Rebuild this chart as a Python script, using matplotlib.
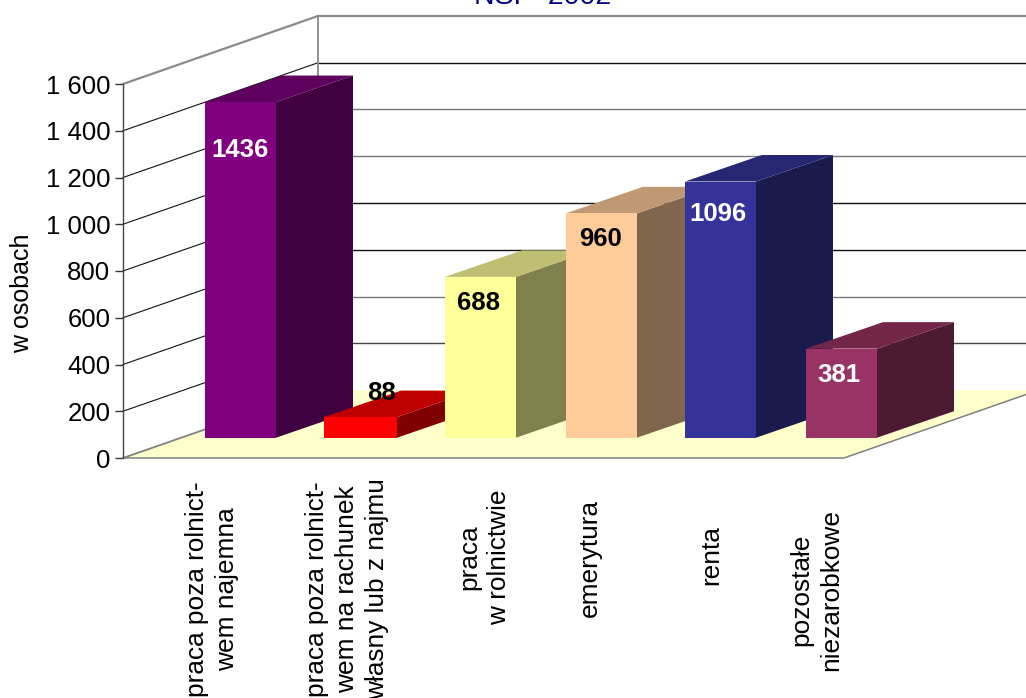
import matplotlib
matplotlib.use('Agg')
import matplotlib.pyplot as plt
from matplotlib.patches import Polygon

plt.rcParams['font.family'] = ['Liberation Sans', 'DejaVu Sans']

categories = [
    'praca poza rolnict-\nwem najemna',
    'praca poza rolnict-\nwem na rachunek\nwłasny lub z najmu',
    'praca\nw rolnictwie',
    'emerytura',
    'renta',
    'pozostałe\nniezarobkowe',
]
values = [1436, 88, 688, 960, 1096, 381]
y_ticks = [0, 200, 400, 600, 800, 1000, 1200, 1400, 1600]
y_tick_labels = ['0', '200', '400', '600', '800', '1 000', '1 200', '1 400', '1 600']

front_colors = ['#800080', '#FF0000', '#FFFF99', '#FFCC99', '#333399', '#993366']
top_colors = ['#5F005F', '#BF0000', '#BFBF73', '#BF9973', '#262673', '#732648']
side_colors = ['#400040', '#800000', '#80804D', '#80664D', '#1A1A4D', '#4D1A33']
label_colors = ['white', 'black', 'black', 'black', 'white', 'white']
grid_colors = ['#444444', '#777777', '#111111', '#111111', '#777777', '#777777', '#111111']

# layout, in pixels of the picture
W, H = 1026, 698
X0, Y0 = 123, 458          # value 0 on the axis
PX_PER_UNIT = 374 / 1600
WALL_DX, WALL_DY = 195, 68  # depth of the floor
SIDE_DX, SIDE_DY = 77, 26.5  # depth of a bar
FLOOR_W = 721
BAR_BASE = 437.7
bar_left = [205, 324, 445, 566, 685, 806]
bar_width = [71, 73, 71, 71, 71, 71]
label_xy = [(240, 150), (381, 393), (479, 303), (600, 239), (718, 214), (839, 375)]
cat_xy = [(212, 589), (347, 589), (484, 557), (590, 558), (711, 555), (816, 590)]


def vy(py):
    # pixel row to value units
    return (Y0 - py) / PX_PER_UNIT


depth = WALL_DY / PX_PER_UNIT
side_up = SIDE_DY / PX_PER_UNIT
base = vy(BAR_BASE)

fig = plt.figure(figsize=(W / 100, H / 100), dpi=100)
ax = fig.add_axes([0, 0, 1, 1])
ax.set_xlim(0, W)
ax.set_ylim(vy(H), vy(0))

# floor
ax.add_patch(Polygon([(X0, 0), (X0 + FLOOR_W, 0), (X0 + FLOOR_W + WALL_DX, depth), (X0 + WALL_DX, depth)],
                     facecolor='#FFFFCC', edgecolor='none', zorder=1))
ax.plot([X0, X0 + FLOOR_W, X0 + FLOOR_W + WALL_DX], [0, 0, depth], color='#808080', lw=1.1, zorder=2)
ax.plot([X0, X0 + WALL_DX], [0, depth], color='#808080', lw=1.3, zorder=2)

# walls
for v, c in zip(y_ticks[1:-1], grid_colors):
    ax.plot([X0, X0 + WALL_DX], [v, v + depth], color='#111111', lw=0.8, zorder=2)
    ax.plot([X0 + WALL_DX, W], [v + depth, v + depth], color=c, lw=1.0, zorder=2)
ax.plot([X0, X0 + WALL_DX, W], [1600, 1600 + depth, 1600 + depth], color='#8A8A8A', lw=1.6, zorder=2)
ax.plot([X0 + WALL_DX, X0 + WALL_DX], [depth, 1600 + depth], color='#8A8A8A', lw=1.3, zorder=2)

# bars, left to right so each one covers the previous
for i, v in enumerate(values):
    x, w = bar_left[i], bar_width[i]
    top = base + v
    z = 3 + i
    ax.add_patch(Polygon([(x + w, base), (x + w + SIDE_DX, base + side_up),
                          (x + w + SIDE_DX, top + side_up), (x + w, top)],
                         facecolor=side_colors[i], edgecolor='none', zorder=z))
    ax.add_patch(Polygon([(x, top), (x + w, top), (x + w + SIDE_DX, top + side_up), (x + SIDE_DX, top + side_up)],
                         facecolor=top_colors[i], edgecolor='none', zorder=z))
    ax.add_patch(Polygon([(x, base), (x + w, base), (x + w, top), (x, top)],
                         facecolor=front_colors[i], edgecolor='none', zorder=z))

for v, (x, y), c in zip(values, label_xy, label_colors):
    ax.text(x, vy(y), str(v), color=c, fontsize=18.5, fontweight='bold', ha='center', va='center', zorder=20)

for cat, (x, y) in zip(categories, cat_xy):
    ax.text(x, vy(y), cat, rotation=90, fontsize=18.9, ha='center', va='center', multialignment='center',
            linespacing=1.32, color='black', zorder=20)

ax.text(22, vy(293), 'w osobach', rotation=90, fontsize=18, ha='center', va='center', color='black')
ax.text(543, vy(4), 'NSP  2002', color='#000080', fontsize=20.5, ha='center', va='baseline')

# value axis
ax.set_xticks([])
ax.set_yticks(y_ticks)
ax.set_yticklabels(y_tick_labels)
ax.tick_params(axis='y', length=6, width=1, color='#333333', pad=3, labelsize=18.5, labelcolor='black')
for name in ['top', 'right', 'bottom']:
    ax.spines[name].set_visible(False)
ax.spines['left'].set_position(('data', X0))
ax.spines['left'].set_bounds(0, 1600)
ax.spines['left'].set_color('#444444')
ax.spines['left'].set_linewidth(1)
ax.patch.set_alpha(0)

fig.savefig('out.png', dpi=100)
